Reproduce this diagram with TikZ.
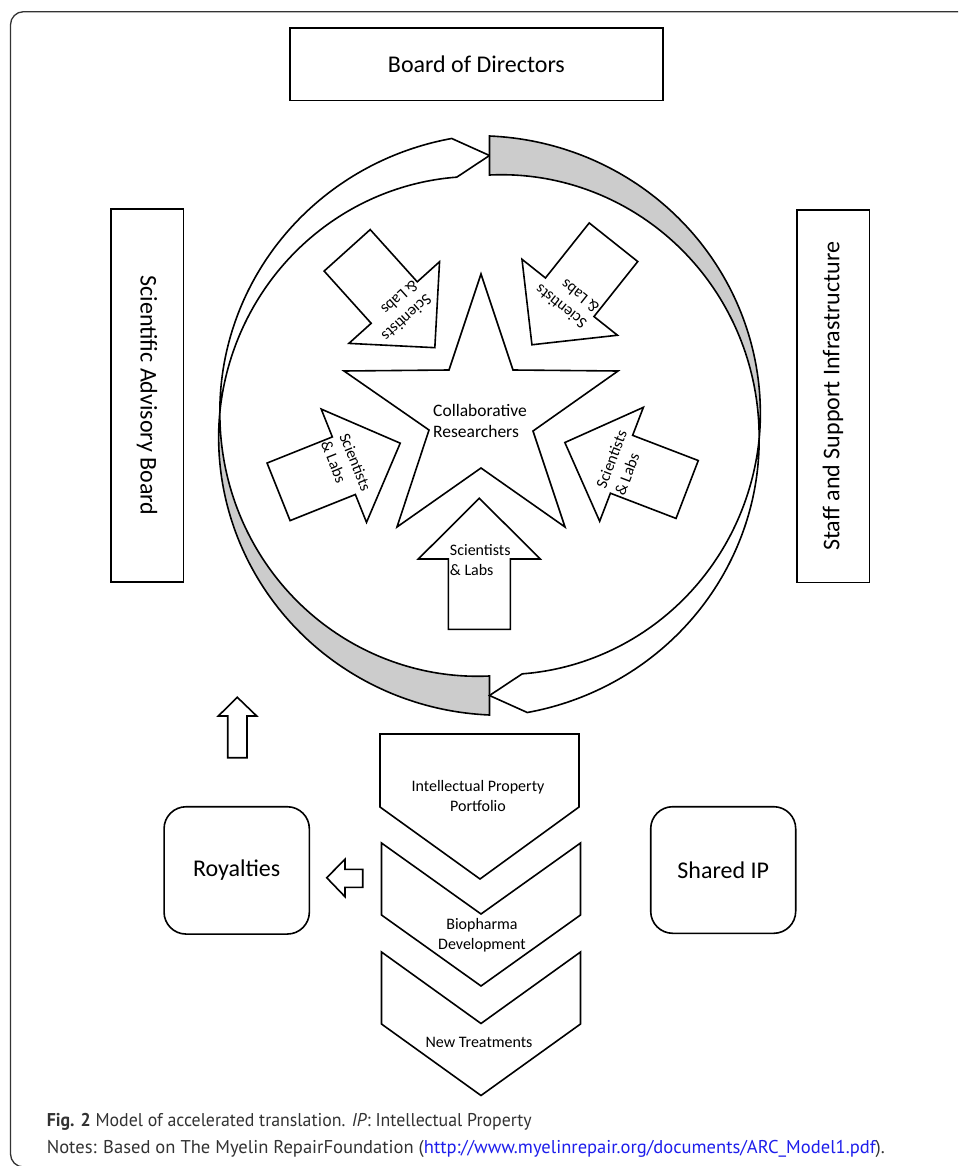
\documentclass[tikz,border=0pt]{standalone}
\usepackage{fontspec}
\setmainfont{Carlito}
\newfontfamily\capfont{PT Sans}
\usepackage{graphicx}
\definecolor{ribbongray}{RGB}{204,204,204}
\definecolor{capgray}{RGB}{50,50,50}
\definecolor{urlblue}{RGB}{30,30,235}
\def\cx{489.5}
\def\cy{425.5}
\def\R{270}
\def\hw{19.5}
\begin{document}
\begin{tikzpicture}[x=1pt,y=-1pt, line width=1.6pt,
  box/.style={draw, fill=white, inner sep=0pt, font=\fontsize{24}{29}\selectfont},
  rbox/.style={box, rounded corners=22pt},
  blk/.style={draw, fill=white},
  gry/.style={draw, fill=ribbongray},
  lbl/.style={inner sep=0pt, font=\fontsize{16}{20}\selectfont, align=left},
  clbl/.style={inner sep=0pt, font=\fontsize{16}{20}\selectfont, align=center},
  captxt/.style={anchor=base west, inner sep=0pt, text=capgray, font=\capfont\fontsize{18.5}{21}\selectfont}]
\useasboundingbox (0,0) rectangle (958,1166);
\clip (0,0) rectangle (958,1166);

% outer frame
\draw[line width=1.3pt, draw=black!80, rounded corners=13pt] (10.5,11.7) rectangle (1000,1167);

% left ribbon: gray tail (bottom) twisting into white head (top)
\draw[gry] plot[domain=270:177.15, samples=80, variable=\t]
  ({\cx+(\R+\hw*(\t-177.15)/92.85)*cos(\t)}, {\cy-(\R+\hw*(\t-177.15)/92.85)*sin(\t)})
  -- plot[domain=177.15:270, samples=80, variable=\t]
  ({\cx+(\R-\hw*(\t-177.15)/92.85)*cos(\t)}, {\cy-(\R-\hw*(\t-177.15)/92.85)*sin(\t)}) -- cycle;
\draw[blk] plot[domain=177.15:97.5, samples=80, variable=\t]
  ({\cx+(\R+\hw*(177.15-\t)/79.65)*cos(\t)}, {\cy-(\R+\hw*(177.15-\t)/79.65)*sin(\t)})
  -- ({\cx},{\cy-\R})
  -- plot[domain=97.5:177.15, samples=80, variable=\t]
  ({\cx+(\R-\hw*(177.15-\t)/79.65)*cos(\t)}, {\cy-(\R-\hw*(177.15-\t)/79.65)*sin(\t)}) -- cycle;

% right ribbon: gray tail (top) twisting into white head (bottom)
\draw[gry] plot[domain=90:-2.85, samples=80, variable=\t]
  ({\cx+(\R+\hw*(\t+2.85)/92.85)*cos(\t)}, {\cy-(\R+\hw*(\t+2.85)/92.85)*sin(\t)})
  -- plot[domain=-2.85:90, samples=80, variable=\t]
  ({\cx+(\R-\hw*(\t+2.85)/92.85)*cos(\t)}, {\cy-(\R-\hw*(\t+2.85)/92.85)*sin(\t)}) -- cycle;
\draw[blk] plot[domain=-2.85:-82.5, samples=80, variable=\t]
  ({\cx+(\R+\hw*(-2.85-\t)/79.65)*cos(\t)}, {\cy-(\R+\hw*(-2.85-\t)/79.65)*sin(\t)})
  -- ({\cx},{\cy+\R})
  -- plot[domain=-82.5:-2.85, samples=80, variable=\t]
  ({\cx+(\R-\hw*(-2.85-\t)/79.65)*cos(\t)}, {\cy-(\R-\hw*(-2.85-\t)/79.65)*sin(\t)}) -- cycle;

% star
\draw[blk] (481,274) -- (513,370) -- (618,371) -- (533,431) -- (565,527) -- (481,468)
  -- (397,527) -- (429,430) -- (344,371) -- (449,370) -- cycle;
\node[inner sep=0pt, font=\fontsize{17.5}{21.5}\selectfont, align=left] (collab) at (480,421) {Collaborative\\Researchers};

% Scientists & Labs block arrows (centre x / centre y / rotation / text shift toward tip)
\foreach \ax/\ay/\rot/\ts [count=\i] in {479.3/563.8/0/4, 626/466/69/6, 572.7/293.5/141.5/8, 391/299/222/15, 339.4/467.5/-68.2/7} {
  \begin{scope}[shift={(\ax,\ay)}, rotate=\rot]
    \draw[blk] (0,-65.5) -- (61,-4.8) -- (31,-4.8) -- (31,65.5) -- (-31,65.5) -- (-31,-4.8) -- (-61,-4.8) -- cycle;
    \node[lbl, rotate=\rot] (sl\i) at (1,-\ts) {Scientists\\\& Labs};
  \end{scope}
}

% boxes
\node[box, minimum width=372.7pt, minimum height=72.4pt] (board) at (476.4,64.5) {Board of Directors};
\node[box, rotate=-90, minimum width=372.4pt, minimum height=72.6pt] (sab) at (147,395.5) {Scientific Advisory Board};
\node[box, rotate=90, minimum width=372.3pt, minimum height=72.6pt] (staff) at (833,396.2) {Staff and Support Infrastructure};
\node[rbox, minimum width=145.3pt, minimum height=127.3pt] (roy) at (236.7,870.4) {Royalties};
\node[rbox, minimum width=145pt, minimum height=126.6pt] (shared) at (723.2,870) {Shared IP};

% chevrons
\draw[blk] (380,734) -- (579,734) -- (579,807) -- (480,879) -- (380,807) -- cycle;
\draw[blk] (381.5,843) -- (481,914) -- (580.5,843) -- (580.5,915) -- (481,986) -- (381.5,915) -- cycle;
\draw[blk] (381.5,952) -- (481,1023.5) -- (580.5,952) -- (580.5,1024) -- (481,1095.5) -- (381.5,1024) -- cycle;
\node[clbl] (ipp) at (478,796) {Intellectual Property\\Portfolio};
\node[clbl] (bio) at (482,935) {Biopharma\\Development};
\node[clbl] (newt) at (479,1042) {New Treatments};

% small hollow arrows
\draw[blk] (237.3,697.3) -- (256.7,716) -- (247,716) -- (247,757.7) -- (227.7,757.7) -- (227.7,716) -- (218.3,716) -- cycle;
\draw[blk] (326.7,877.7) -- (345,859.3) -- (345,869.3) -- (362.7,869.3) -- (362.7,887.3) -- (345,887.3) -- (345,896.7) -- cycle;

% caption
\node[captxt] (cap1) at (46,1126) {\resizebox{485pt}{\height}{\textbf{Fig. 2} Model of accelerated translation. \textit{IP}: Intellectual Property}};
\node[captxt] (cap2) at (46,1153) {\resizebox{838pt}{\height}{Notes: Based on The Myelin RepairFoundation (\textcolor{urlblue}{http://www.myelinrepair.org/documents/ARC\_Model1.pdf}).}};
\end{tikzpicture}
\end{document}
